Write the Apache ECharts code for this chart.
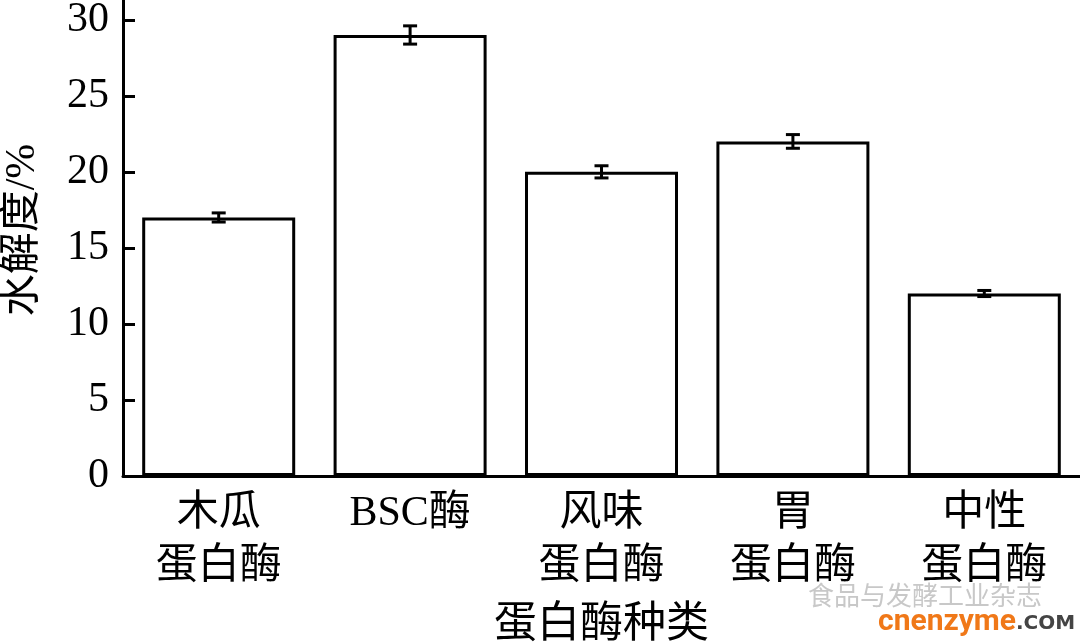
<!DOCTYPE html>
<html><head><meta charset="utf-8">
<script src="https://cdn.jsdelivr.net/npm/echarts@6/dist/echarts.min.js"></script>
<style>html,body{margin:0;padding:0;background:#fff}#c{width:1080px;height:642px}</style>
</head><body><div id="c"></div>
<script>
const categories = ['木瓜\n蛋白酶', 'BSC酶', '风味\n蛋白酶', '胃\n蛋白酶', '中性\n蛋白酶'];
const values = [17.0, 29.0, 20.0, 22.0, 12.0];
const errors = [0.3, 0.6, 0.4, 0.45, 0.2];
const yTicks = [0, 5, 10, 15, 20, 25, 30];

const FONT = '"Liberation Serif", "Noto Sans CJK SC", serif';
const chart = echarts.init(document.getElementById('c'));
chart.setOption({
  animation: false,
  backgroundColor: '#fff',
  grid: { left: 123, right: 0, top: 0, bottom: 166, containLabel: false, outerBoundsMode: 'none' },
  xAxis: {
    type: 'category', data: categories,
    name: '蛋白酶种类', nameLocation: 'middle', nameGap: 128,
    nameTextStyle: { fontFamily: FONT, fontSize: 43, color: '#000' },
    axisLine: { lineStyle: { color: '#000', width: 3 } },
    axisTick: { show: false },
    axisLabel: { fontFamily: FONT, fontSize: 42, color: '#000', lineHeight: 53, margin: 11 }
  },
  yAxis: {
    type: 'value', min: 0, max: 31.3, interval: 5,
    name: '水解度/%', nameLocation: 'middle', nameGap: 79, nameRotate: 90,
    nameTextStyle: { fontFamily: FONT, fontSize: 42, color: '#000', padding: [0, 0, 0, 16] },
    axisLine: { show: true, lineStyle: { color: '#000', width: 3 } },
    axisTick: { show: true, inside: true, length: 12, lineStyle: { color: '#000', width: 3 } },
    splitLine: { show: false },
    axisLabel: { fontFamily: FONT, fontSize: 42, color: '#000', margin: 14, showMaxLabel: false,
      formatter: v => yTicks.indexOf(v) >= 0 ? String(v) : '' }
  },
  series: [
    { type: 'bar', data: values, barWidth: 153,
      itemStyle: { color: '#fff', borderColor: '#000', borderWidth: 3 } },
    { type: 'custom',
      data: values.map((v, i) => [i, v, errors[i]]),
      renderItem: function (params, api) {
        const x = api.value(0), v = api.value(1), e = api.value(2);
        const hi = api.coord([x, v + e]), lo = api.coord([x, v - e]);
        const hw = 7;
        const st = { stroke: '#000', lineWidth: 3 };
        return { type: 'group', children: [
          { type: 'line', shape: { x1: hi[0], y1: hi[1], x2: lo[0], y2: lo[1] }, style: st },
          { type: 'line', shape: { x1: hi[0]-hw, y1: hi[1], x2: hi[0]+hw, y2: hi[1] }, style: st },
          { type: 'line', shape: { x1: lo[0]-hw, y1: lo[1], x2: lo[0]+hw, y2: lo[1] }, style: st }
        ]};
      }, z: 5 }
  ],
  graphic: [
    { type: 'text', left: 808, top: 582, style: { text: '食品与发酵工业杂志', fontFamily: '"Noto Sans CJK SC"', fontSize: 26, fill: '#c8c8c8' } },
    { type: 'text', left: 878, top: 607, style: { text: 'cnenzyme', fontFamily: 'Roboto, "DejaVu Sans"', fontSize: 30, fontWeight: 'bold', fill: '#f07818' } },
    { type: 'text', left: 1016, top: 614, style: { text: '.COM', fontFamily: '"DejaVu Sans"', fontSize: 20, fontWeight: 'bold', fill: '#444' } }
  ]
});
</script></body></html>
